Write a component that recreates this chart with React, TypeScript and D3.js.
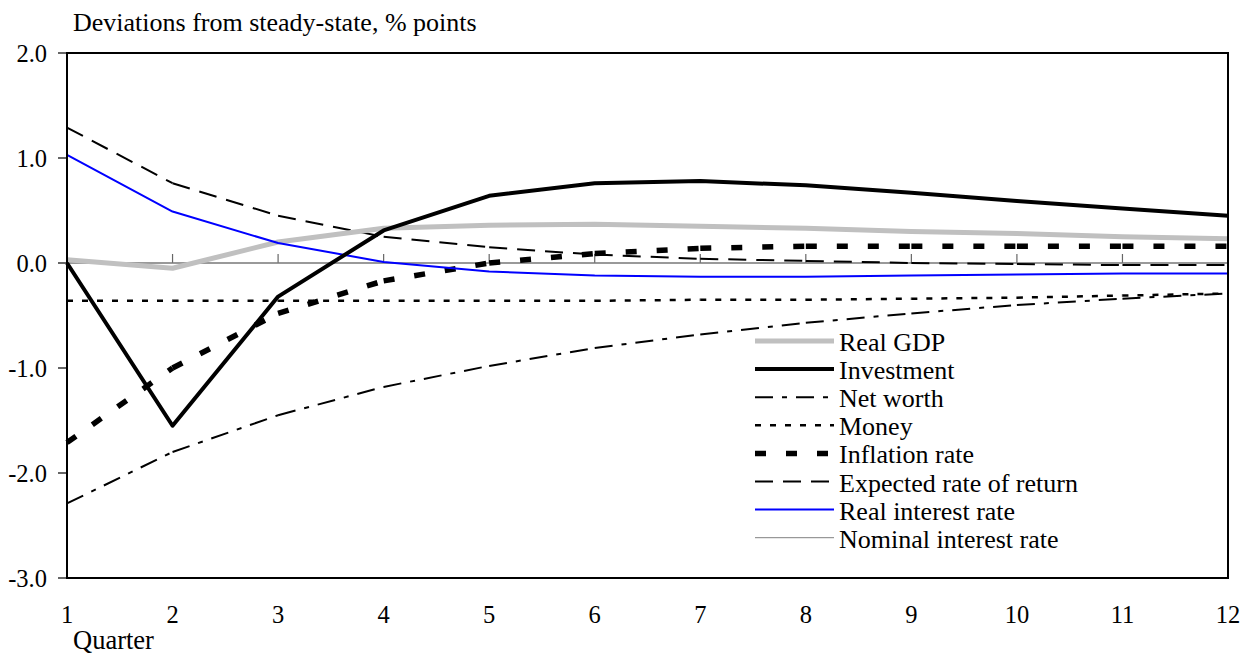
import React from 'react';
import * as d3 from 'd3';

// Impulse responses, deviations from steady-state (% points), by quarter
const quarters = [1, 2, 3, 4, 5, 6, 7, 8, 9, 10, 11, 12];
const realGDP = [0.03, -0.05, 0.2, 0.33, 0.36, 0.37, 0.35, 0.33, 0.3, 0.28, 0.25, 0.23];
const investment = [0.0, -1.55, -0.32, 0.31, 0.64, 0.76, 0.78, 0.74, 0.67, 0.59, 0.52, 0.45];
const netWorth = [-2.29, -1.8, -1.45, -1.18, -0.98, -0.81, -0.68, -0.57, -0.48, -0.4, -0.34, -0.29];
const money = [-0.36, -0.36, -0.36, -0.36, -0.36, -0.36, -0.35, -0.35, -0.34, -0.33, -0.31, -0.29];
const inflationRate = [-1.71, -1.0, -0.48, -0.17, 0.0, 0.09, 0.14, 0.16, 0.16, 0.16, 0.16, 0.16];
const expectedReturn = [1.29, 0.76, 0.45, 0.25, 0.15, 0.08, 0.04, 0.02, 0.0, -0.01, -0.02, -0.02];
const realInterest = [1.03, 0.49, 0.19, 0.01, -0.08, -0.12, -0.13, -0.13, -0.12, -0.11, -0.1, -0.1];
const nominalInterest = [0, 0, 0, 0, 0, 0, 0, 0, 0, 0, 0, 0];

const yTicks = [2, 1, 0, -1, -2, -3];
const seriesNames = [
  'Real GDP',
  'Investment',
  'Net worth',
  'Money',
  'Inflation rate',
  'Expected rate of return',
  'Real interest rate',
  'Nominal interest rate',
];

const W = 1250;
const H = 657;
const plot = { left: 67, right: 1228, top: 53, bottom: 578 };
const FONT = "'Liberation Serif'";

type Style = { color: string; width: number; dash?: string };

const styles: Style[] = [
  { color: '#c0c0c0', width: 5 },
  { color: '#000000', width: 4 },
  { color: '#000000', width: 2, dash: '18,9,5,9' },
  { color: '#000000', width: 2.5, dash: '6,9' },
  { color: '#000000', width: 5.5, dash: '11,20' },
  { color: '#000000', width: 2, dash: '18,10' },
  { color: '#0000ff', width: 2 },
  { color: '#808080', width: 1 },
];

const values = [
  realGDP,
  investment,
  netWorth,
  money,
  inflationRate,
  expectedReturn,
  realInterest,
  nominalInterest,
];

export default function App() {
  const x = d3.scaleLinear().domain([1, 12]).range([plot.left, plot.right]);
  const y = d3.scaleLinear().domain([-3, 2]).range([plot.bottom, plot.top]);
  const line = d3
    .line<[number, number]>()
    .x((d) => x(d[0]))
    .y((d) => y(d[1]));

  // Dashed series restart their pattern at every data point
  const drawOrder = [7, 3, 2, 5, 4, 0, 6, 1];

  const legendX0 = 755;
  const legendX1 = 834;
  const legendY0 = 341;
  const legendStep = 28.1;

  return (
    <svg
      width={W}
      height={H}
      style={{ position: 'absolute', left: 0, top: 0, background: '#fff' }}
    >
      <rect x={0} y={0} width={W} height={H} fill="#fff" />
      <text x={73} y={31} fontSize={26} fill="#000" fontFamily={FONT}>
        Deviations from steady-state, % points
      </text>

      {/* zero axis with category ticks */}
      <line x1={plot.left} x2={plot.right} y1={y(0)} y2={y(0)} stroke="#666" strokeWidth={1.2} />
      {quarters.slice(1, -1).map((q) => (
        <line key={q} x1={x(q)} x2={x(q)} y1={y(0)} y2={y(0) - 9} stroke="#666" strokeWidth={1.2} />
      ))}

      {/* series */}
      {drawOrder.map((si) => {
        const st = styles[si];
        const pts: [number, number][] = quarters.map((q, i) => [q, values[si][i]]);
        if (st.dash) {
          return (
            <g key={si}>
              {pts.slice(1).map((p, i) => (
                <path
                  key={i}
                  d={line([pts[i], p]) || ''}
                  fill="none"
                  stroke={st.color}
                  strokeWidth={st.width}
                  strokeDasharray={st.dash}
                />
              ))}
            </g>
          );
        }
        return (
          <path
            key={si}
            d={line(pts) || ''}
            fill="none"
            stroke={st.color}
            strokeWidth={st.width}
            strokeLinejoin="round"
          />
        );
      })}

      {/* frame */}
      <rect
        x={plot.left}
        y={plot.top}
        width={plot.right - plot.left}
        height={plot.bottom - plot.top}
        fill="none"
        stroke="#000"
        strokeWidth={2}
      />

      {/* y axis */}
      {yTicks.map((t) => (
        <g key={t}>
          <line x1={plot.left - 9} x2={plot.left} y1={y(t)} y2={y(t)} stroke="#000" strokeWidth={1.2} />
          <text x={47} y={y(t) + 9} textAnchor="end" fontSize={24.5} fill="#000" fontFamily={FONT}>
            {t.toFixed(1)}
          </text>
        </g>
      ))}

      {/* x labels */}
      {quarters.map((q) => (
        <text key={q} x={x(q)} y={623} textAnchor="middle" fontSize={24.5} fill="#000" fontFamily={FONT}>
          {q}
        </text>
      ))}
      <text x={73} y={649} fontSize={26.5} fill="#000" fontFamily={FONT}>
        Quarter
      </text>

      {/* legend */}
      {seriesNames.map((name, i) => {
        const st = styles[i];
        const ly = legendY0 + i * legendStep;
        return (
          <g key={name}>
            <line
              x1={legendX0}
              x2={legendX1}
              y1={ly}
              y2={ly}
              stroke={st.color}
              strokeWidth={st.width}
              strokeDasharray={st.dash}
            />
            <text x={839} y={ly + 10} fontSize={26} fill="#000" fontFamily={FONT}>
              {name}
            </text>
          </g>
        );
      })}
    </svg>
  );
}
